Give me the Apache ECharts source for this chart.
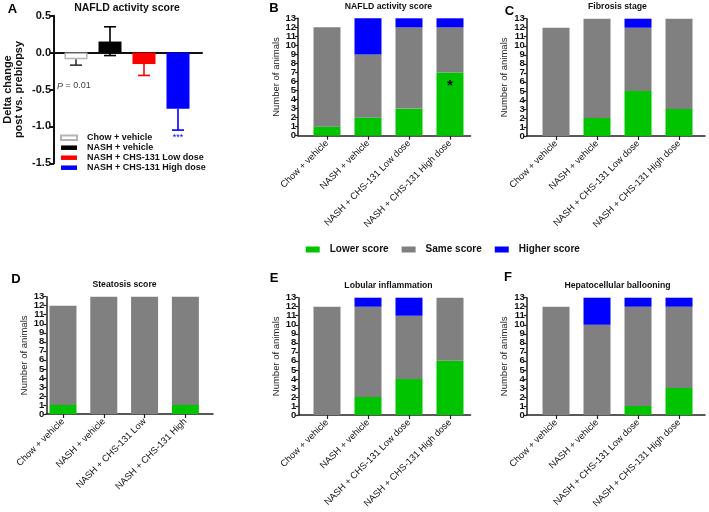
<!DOCTYPE html>
<html><head><meta charset="utf-8">
<script src="https://cdn.jsdelivr.net/npm/echarts@6/dist/echarts.min.js"></script>
<style>html,body{margin:0;padding:0;background:#fff}#c{width:709px;height:512px}</style>
</head><body><div id="c"></div>
<script>
// ---------- data ----------
const groups = ['Chow + vehicle', 'NASH + vehicle', 'NASH + CHS-131 Low dose', 'NASH + CHS-131 High dose'];
const groupsShort = ['Chow + vehicle', 'NASH + vehicle', 'NASH + CHS-131 Low', 'NASH + CHS-131 High'];
const scoreNames = ['Lower score', 'Same score', 'Higher score'];
const countTicksEven = [0, 2, 4, 6, 8, 10, 12];
const countTicksOdd = [1, 3, 5, 7, 9, 11, 13];

// Panel A: delta change of NAFLD activity score (mean, error-bar ends)
const deltaMean = [-0.09, 0.15, -0.155, -0.76];
const deltaErrLow = [-0.17, -0.04, -0.31, -1.05];
const deltaErrHigh = [-0.09, 0.35, -0.155, -0.76];

// Panels B-F: number of animals per score change
const nafldLower = [1, 2, 3, 7], nafldSame = [11, 7, 9, 5], nafldHigher = [0, 4, 1, 1];
const fibLower = [0, 2, 5, 3], fibSame = [12, 11, 7, 10], fibHigher = [0, 0, 1, 0];
const steaLower = [1, 0, 0, 1], steaSame = [11, 13, 13, 12], steaHigher = [0, 0, 0, 0];
const lobLower = [0, 2, 4, 6], lobSame = [12, 10, 7, 7], lobHigher = [0, 1, 2, 0];
const balLower = [0, 0, 1, 3], balSame = [12, 10, 11, 9], balHigher = [0, 3, 1, 1];

// ---------- styling / layout ----------
const FONT = '"Liberation Sans", Arial, sans-serif';
const colA = ['#ffffff', '#000000', '#ff0000', '#0000ff'];
const errColA = ['#333333', '#000000', '#ff0000', '#0000ff'];
const scoreColors = ['#00c400', '#808080', '#0000ff'];
const catIdx = [0, 1, 2, 3];

// x extent (in category units) chosen so the axis line runs from the y axis past the last bar
const panels = [
  {letter: 'B', title: 'NAFLD activity score', cats: groups, lower: nafldLower, same: nafldSame, higher: nafldHigher,
   grid: {left: 298, top: 18.3, width: 172.5, height: 117.4}, xr: [-0.707, 3.5], titleY: 6.5, lp: [274, 8.5]},
  {letter: 'C', title: 'Fibrosis stage', cats: groups, lower: fibLower, same: fibSame, higher: fibHigher,
   grid: {left: 526.7, top: 18.7, width: 178.3, height: 117.3}, xr: [-0.715, 3.634], titleY: 6.7, lp: [509.5, 11]},
  {letter: 'D', title: 'Steatosis score', cats: groupsShort, lower: steaLower, same: steaSame, higher: steaHigher,
   grid: {left: 46.3, top: 296.7, width: 166.7, height: 117.3}, xr: [-0.409, 3.677], titleY: 284.5, lp: [16, 279]},
  {letter: 'E', title: 'Lobular inflammation', cats: groups, lower: lobLower, same: lobSame, higher: lobHigher,
   grid: {left: 298.3, top: 297.7, width: 172.2, height: 117.3}, xr: [-0.700, 3.5], titleY: 285.5, lp: [274, 278]},
  {letter: 'F', title: 'Hepatocellular ballooning', cats: groups, lower: balLower, same: balSame, higher: balHigher,
   grid: {left: 526.7, top: 297.7, width: 178.3, height: 117.3}, xr: [-0.715, 3.634], titleY: 285.5, lp: [508, 277]}
];

const gridA = {left: 54, top: 15.7, width: 148, height: 147.6};
const xrA = [-0.647, 3.706];

const grids = [gridA].concat(panels.map(p => p.grid)).map(g => Object.assign({containLabel: false, outerBoundsMode: 'none'}, g));

const xAxes = [{
  gridIndex: 0, type: 'value', min: xrA[0], max: xrA[1],
  axisLine: {onZero: true, lineStyle: {color: '#111', width: 2}},
  axisTick: {show: false}, axisLabel: {show: false}, splitLine: {show: false}
}];
const yAxes = [{
  gridIndex: 0, type: 'value', min: -1.5, max: 0.5, interval: 0.5, position: 'left',
  axisLine: {show: true, onZero: false, lineStyle: {color: '#111', width: 2}},
  axisTick: {show: true, length: 4, lineStyle: {color: '#111', width: 2}},
  splitLine: {show: false},
  axisLabel: {formatter: v => v.toFixed(1), fontWeight: 'bold', fontSize: 11, color: '#111', margin: 3, fontFamily: FONT,
    showMinLabel: true, showMaxLabel: true},
  name: 'Delta change\npost vs. prebiopsy', nameLocation: 'middle', nameGap: 30,
  nameTextStyle: {fontWeight: 'bold', fontSize: 11, lineHeight: 11, color: '#111', fontFamily: FONT}
}];
const yAxesOdd = [];

panels.forEach((p, i) => {
  const gi = i + 1;
  xAxes.push({
    gridIndex: gi, type: 'value', min: p.xr[0], max: p.xr[1],
    axisLine: {onZero: false, lineStyle: {color: '#222', width: 1.5}},
    axisTick: {show: true, customValues: catIdx, length: 4, lineStyle: {color: '#222', width: 1.2}},
    axisLabel: {customValues: catIdx, formatter: v => p.cats[Math.round(v)], rotate: 45, fontSize: 9.3, color: '#111', margin: 6,
      fontFamily: FONT, showMinLabel: true, showMaxLabel: true},
    splitLine: {show: false}
  });
  yAxes.push({
    gridIndex: gi, type: 'value', min: 0, max: 13, interval: 1, position: 'left',
    axisLine: {show: true, onZero: false, lineStyle: {color: '#222', width: 1.5}},
    axisTick: {show: true, length: 3, lineStyle: {color: '#222', width: 1.2}},
    splitLine: {show: false},
    axisLabel: {customValues: countTicksEven, fontSize: 9.5, fontWeight: 'bold', color: '#111', margin: 2, fontFamily: FONT,
      showMinLabel: true, showMaxLabel: true},
    name: 'Number of animals', nameLocation: 'middle', nameGap: 17,
    nameTextStyle: {fontSize: 9.5, color: '#222', fontFamily: FONT}
  });
  yAxesOdd.push({
    gridIndex: gi, type: 'value', min: 0, max: 13, interval: 1, position: 'left',
    axisLine: {show: false}, axisTick: {show: false}, splitLine: {show: false},
    axisLabel: {customValues: countTicksOdd, fontSize: 9.5, fontWeight: 'bold', color: '#111', margin: 2, fontFamily: FONT,
      showMinLabel: true, showMaxLabel: true}
  });
});

const series = [];
// error bars for panel A
series.push({
  type: 'custom', name: 'err', xAxisIndex: 0, yAxisIndex: 0, z: 1,
  data: catIdx.map(i => [i, deltaErrLow[i], deltaErrHigh[i], deltaMean[i]]),
  encode: {x: 0, y: [1, 2]},
  renderItem: function (params, api) {
    const i = api.value(0);
    const lo = api.coord([i, api.value(1)]);
    const hi = api.coord([i, api.value(2)]);
    const mean = api.value(3);
    const cw = 6;
    const st = {stroke: errColA[params.dataIndex], lineWidth: 1.6};
    const ch = [{type: 'line', shape: {x1: lo[0], y1: lo[1], x2: hi[0], y2: hi[1]}, style: st}];
    if (api.value(1) !== mean) ch.push({type: 'line', shape: {x1: lo[0] - cw, y1: lo[1], x2: lo[0] + cw, y2: lo[1]}, style: st});
    if (api.value(2) !== mean) ch.push({type: 'line', shape: {x1: hi[0] - cw, y1: hi[1], x2: hi[0] + cw, y2: hi[1]}, style: st});
    return {type: 'group', children: ch};
  }
});
groups.forEach((g, k) => {
  const s = {
    type: 'bar', name: g, xAxisIndex: 0, yAxisIndex: 0, z: 2,
    barWidth: 23, barGap: '-100%',
    data: [[deltaMean[k], k]], encode: {x: 1, y: 0},
    itemStyle: k === 0 ? {color: '#ffffff', borderColor: '#b4b4b4', borderWidth: 1.5} : {color: colA[k]}
  };
  if (k === 3) {
    s.markPoint = {symbol: 'circle', symbolSize: 0, silent: true,
      data: [{coord: [3, -1.13], label: {show: true, formatter: '***', color: '#0000ff', fontSize: 9, fontFamily: FONT, position: 'inside', offset: [0, 2]}}]};
  }
  series.push(s);
});

panels.forEach((p, i) => {
  const gi = i + 1;
  [p.lower, p.same, p.higher].forEach((arr, k) => {
    const s = {
      type: 'bar', name: scoreNames[k], xAxisIndex: gi, yAxisIndex: gi, stack: 'st' + gi,
      barWidth: 27, data: arr.map((v, j) => [v, j]), encode: {x: 1, y: 0}, itemStyle: {color: scoreColors[k]}
    };
    if (p.letter === 'B' && k === 0) {
      s.markPoint = {symbol: 'circle', symbolSize: 0, silent: true,
        data: [{coord: [3, 6], label: {show: true, formatter: '*', color: '#000', fontSize: 15, fontWeight: 'bold', fontFamily: FONT, position: 'inside', offset: [0, 4]}}]};
    }
    series.push(s);
  });
});

const graphics = [
  {type: 'text', x: 12.5, y: 9, style: {text: 'A', fontSize: 13, fontWeight: 'bold', fontFamily: FONT, fill: '#000', align: 'center', verticalAlign: 'middle'}},
  {type: 'text', x: 127, y: 8, style: {text: 'NAFLD activity score', fontSize: 10.5, fontWeight: 'bold', fontFamily: FONT, fill: '#111', align: 'center', verticalAlign: 'middle'}},
  {type: 'text', x: 57, y: 86, style: {text: '{i|P} = 0.01', fontSize: 9, fontFamily: FONT, fill: '#444', align: 'left', verticalAlign: 'middle',
    rich: {i: {fontStyle: 'italic', fontSize: 9, fontFamily: FONT, fill: '#444'}}}}
];
const titleCenters = [388.5, 617.5, 124.5, 388.5, 617.5];
panels.forEach((p, i) => {
  graphics.push({type: 'text', x: p.lp[0], y: p.lp[1], style: {text: p.letter, fontSize: 13, fontWeight: 'bold', fontFamily: FONT, fill: '#000', align: 'center', verticalAlign: 'middle'}});
  graphics.push({type: 'text', x: titleCenters[i], y: p.titleY, style: {text: p.title, fontSize: 8.7, fontWeight: 'bold', fontFamily: FONT, fill: '#111', align: 'center', verticalAlign: 'middle'}});
});

const option = {
  backgroundColor: '#ffffff',
  animation: false,
  textStyle: {fontFamily: FONT},
  grid: grids,
  xAxis: xAxes,
  yAxis: yAxes.concat(yAxesOdd),
  legend: [
    {data: groups, orient: 'vertical', left: 55, top: 127.7, icon: 'rect', itemWidth: 16, itemHeight: 4.5, itemGap: 0,
     selectedMode: false, textStyle: {fontSize: 9, fontWeight: 'bold', color: '#111', lineHeight: 10, padding: [0, 0, 0, 5], fontFamily: FONT}},
    {data: scoreNames, orient: 'horizontal', left: 300.7, top: 239.5, icon: 'rect', itemWidth: 14, itemHeight: 6, itemGap: 13,
     selectedMode: false, textStyle: {fontSize: 10, fontWeight: 'bold', color: '#111', padding: [0, 0, 0, 5], fontFamily: FONT}}
  ],
  graphic: graphics,
  series: series
};
const chart = echarts.init(document.getElementById('c'), null, {renderer: 'canvas'});
chart.setOption(option);
</script>
</body></html>
